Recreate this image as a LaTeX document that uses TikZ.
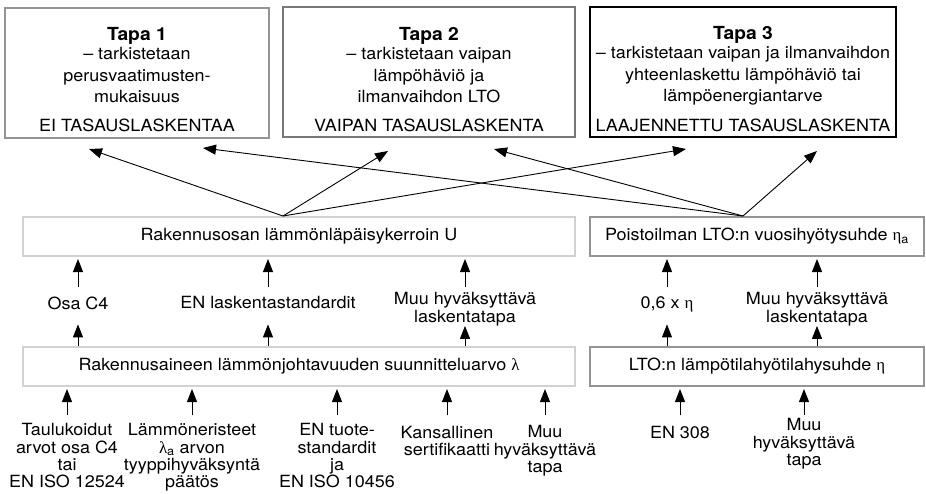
\documentclass[tikz,border=0pt]{standalone}
\usepackage{fontspec}
\setmainfont[FakeStretch=1.07]{TeX Gyre Heros}
\newfontfamily\kreikka{Liberation Serif}
\usetikzlibrary{arrows.meta}

\definecolor{reunavaalea}{gray}{0.82}
\definecolor{reunaharmaa}{gray}{0.58}
\definecolor{reunatumma}{gray}{0.47}

% first line height of a label
\newcommand{\nosto}[1]{\rule{0pt}{#1}}

\begin{document}
\begin{tikzpicture}[x=1pt,y=-1pt,
    font=\fontsize{16.8}{17.3}\selectfont,
    laatikko/.style={draw, line width=2pt, inner sep=0pt},
    tapateksti/.style={anchor=north, align=center, inner sep=0pt, font=\fontsize{16.8}{21.5}\selectfont},
    selite/.style={anchor=north, align=center, inner sep=0pt,
        execute at end node={\rule[-#1]{0pt}{#1}}},
    nuoli/.style={-{Triangle[length=13pt,width=10pt]}, line width=1pt},
    vino/.style={-{Triangle[length=13pt,width=10pt]}, line width=0.9pt}]

    % Fix the page size
    \useasboundingbox (0,0) rectangle (926,493);

    % Draw the three methods
    \node[laatikko, draw=reunaharmaa, minimum width=264pt, minimum height=130pt] (tapa1) at (137,73) {};
    \node[laatikko, draw=reunatumma, minimum width=292pt, minimum height=130pt] (tapa2) at (429,72) {};
    \node[laatikko, draw=black, line width=2.5pt, minimum width=306pt, minimum height=130pt] (tapa3) at (743,72) {};

    \node[tapateksti] (tapa1txt) at (137,27) {{\bfseries\fontsize{18}{22}\selectfont Tapa 1}\\[-2pt] – tarkistetaan\\ perusvaatimusten-\\ mukaisuus\\[7pt] EI TASAUSLASKENTAA};
    \node[tapateksti] (tapa2txt) at (429,27) {{\bfseries\fontsize{18}{22}\selectfont Tapa 2}\\[-2pt] – tarkistetaan vaipan\\ lämpöhäviö ja\\ ilmanvaihdon LTO\\[7pt] VAIPAN TASAUSLASKENTA};
    \node[tapateksti] (tapa3txt) at (743,26) {{\bfseries\fontsize{18}{22}\selectfont Tapa 3}\\[-2pt] – tarkistetaan vaipan ja ilmanvaihdon\\ yhteenlaskettu lämpöhäviö tai\\ lämpöenergiantarve\\[8pt] LAAJENNETTU TASAUSLASKENTA};

    % Draw the quantities
    \node[laatikko, draw=reunavaalea, minimum width=552pt, minimum height=39pt] (ukerroin) at (299,236.5) {Rakennusosan lämmönläpäisykerroin U};
    \node[laatikko, draw=reunaharmaa, minimum width=334pt, minimum height=39pt] (etaa) at (757,236.5) {Poistoilman LTO:n vuosihyötysuhde {\kreikka η}\textsubscript{a}};
    \node[laatikko, draw=reunavaalea, minimum width=552pt, minimum height=39pt] (lambda) at (299,366.5) {Rakennusaineen lämmönjohtavuuden suunnitteluarvo {\kreikka λ}};
    \node[laatikko, draw=reunaharmaa, minimum width=334pt, minimum height=39pt] (eta) at (757,366.5) {LTO:n lämpötilahyötilahysuhde {\kreikka η}};

    % Middle row of methods
    \node[selite=15pt] (osac4) at (78,287) {\nosto{22pt}Osa C4};
    \node[selite=15.5pt] (enlask) at (268,287) {\nosto{21.5pt}EN laskentastandardit};
    \node[selite=3pt] (muulask) at (465,287) {\nosto{17.5pt}Muu hyväksyttävä\\ laskentatapa};
    \node[selite=16pt] (kerroin) at (667,287) {\nosto{21pt}0,6 x {\kreikka η}};
    \node[selite=3pt] (muulask2) at (817,287) {\nosto{17.5pt}Muu hyväksyttävä\\ laskentatapa};

    % Bottom row of sources
    \node[selite=0pt] (taulu) at (67,415) {\nosto{20.5pt}Taulukoidut\\ arvot osa C4\\ tai\\ EN ISO 12524};
    \node[selite=0pt] (eriste) at (192,415) {\nosto{20.5pt}Lämmöneristeet\\ {\kreikka λ}\textsubscript{a} arvon\\ tyyppihyväksyntä\\ päätös};
    \node[selite=0pt] (entuote) at (337,415) {\nosto{20.5pt}EN tuote-\\ standardit\\ ja\\ EN ISO 10456};
    \node[selite=0pt] (kansal) at (447,415) {\nosto{23pt}Kansallinen\\ sertifikaatti};
    \node[selite=0pt] (muutapa) at (545,415) {\nosto{22.5pt}Muu\\ hyväksyttävä\\ tapa};
    \node[selite=0pt] (en308) at (680,415) {\nosto{23pt}EN 308};
    \node[selite=0pt] (muutapa2) at (804,415) {\nosto{15.5pt}Muu\\ hyväksyttävä\\ tapa};

    % Arrows up to the boxes
    \foreach \n in {taulu,eriste,entuote,kansal,muutapa}
        \draw[nuoli, shorten >=2pt] (\n.north) -- (\n |- lambda.south);
    \foreach \n in {en308,muutapa2}
        \draw[nuoli, shorten >=2pt] (\n.north) -- (\n |- eta.south);
    \foreach \n in {osac4,enlask,muulask}
        \draw[nuoli] (lambda.north -| \n) -- (\n.south);
    \foreach \n in {kerroin,muulask2}
        \draw[nuoli] (eta.north -| \n) -- (\n.south);
    \foreach \n in {osac4,enlask,muulask}
        \draw[nuoli, shorten >=2pt] (\n.north) -- (\n |- ukerroin.south);
    \foreach \n in {kerroin,muulask2}
        \draw[nuoli, shorten >=2pt] (\n.north) -- (\n |- etaa.south);

    % Arrows up to the methods
    \coordinate (ujako) at ([xshift=-16pt]ukerroin.north);
    \coordinate (etajako) at ([xshift=-14pt]etaa.north);
    \coordinate (t1u) at (89,149);
    \coordinate (t1e) at (203,148);
    \coordinate (t2u) at (388,151);
    \coordinate (t2e) at (494,149);
    \coordinate (t3u) at (686,149);
    \coordinate (t3e) at (817,151);
    \draw[vino] (ujako) -- (t1u);
    \draw[vino] (ujako) -- (t2u);
    \draw[vino] (ujako) -- (t3u);
    \draw[vino] (etajako) -- (t1e);
    \draw[vino] (etajako) -- (t2e);
    \draw[vino] (etajako) -- (t3e);
\end{tikzpicture}
\end{document}
